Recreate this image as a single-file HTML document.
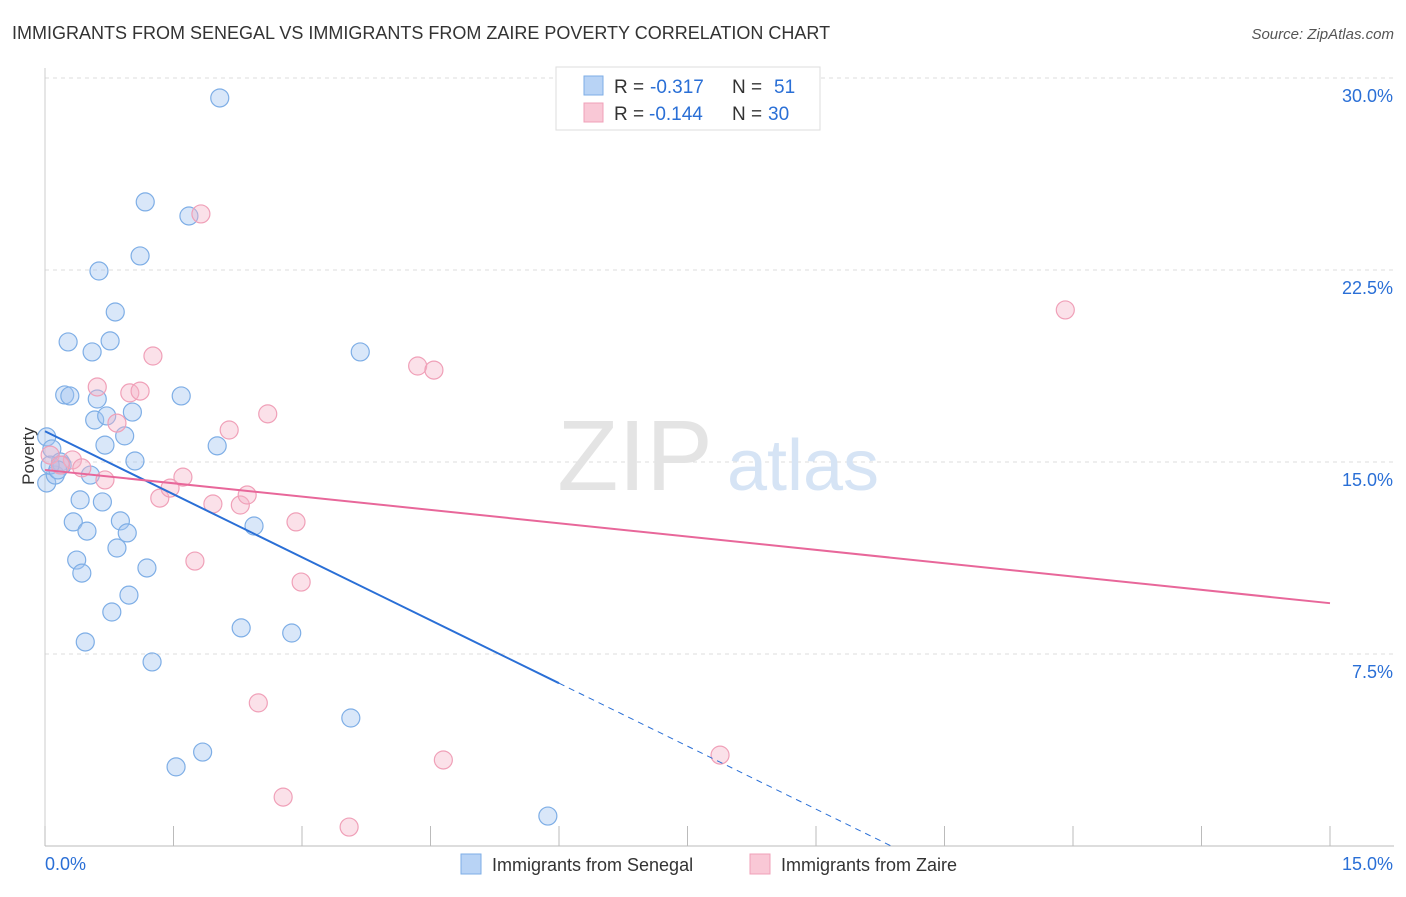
<!DOCTYPE html>
<html><head><meta charset="utf-8"><style>
body{margin:0;background:#fff;font-family:"Liberation Sans",sans-serif;}
svg text{font-family:"Liberation Sans",sans-serif;}
</style></head><body>
<svg id="chart" width="1406" height="892" xmlns="http://www.w3.org/2000/svg">
<text x="12" y="39" font-size="18" fill="#333">IMMIGRANTS FROM SENEGAL VS IMMIGRANTS FROM ZAIRE POVERTY CORRELATION CHART</text>
<text x="1394" y="39" font-size="15" fill="#555" font-style="italic" text-anchor="end">Source: ZipAtlas.com</text>
<g id="grid"></g>
<g id="wm">
<text x="635" y="490" font-size="100" fill="#e4e4e4" font-family="Liberation Serif" text-anchor="middle">ZIP</text>
<text x="803" y="490" font-size="72" fill="#d6e4f5" text-anchor="middle">atlas</text>
</g>
<g id="axes"></g>
<g id="points"></g>
<g id="trends"></g>
<text x="34" y="456" font-size="17" fill="#333" text-anchor="middle" transform="rotate(-90 34 456)">Poverty</text>
<g>
<rect x="556" y="67" width="264" height="63" fill="#fff" stroke="#ddd"/>
<rect x="584" y="76" width="19" height="19" fill="#b8d3f5" stroke="#7eaee6"/>
<g>
<text x="614" y="93" font-size="19" fill="#333">R =</text>
<text x="650" y="93" font-size="19" fill="#2a6fd6">-0.317</text>
<text x="732" y="93" font-size="19" fill="#333">N =</text>
<text x="774" y="93" font-size="19" fill="#2a6fd6">51</text>
</g>
<rect x="584" y="103" width="19" height="19" fill="#f9c8d6" stroke="#f0a0b8"/>
<g>
<text x="614" y="120" font-size="19" fill="#333">R =</text>
<text x="649" y="120" font-size="19" fill="#2a6fd6">-0.144</text>
<text x="732" y="120" font-size="19" fill="#333">N =</text>
<text x="768" y="120" font-size="19" fill="#2a6fd6">30</text>
</g>
</g>
<g>
<rect x="461" y="854" width="20" height="20" fill="#b8d3f5" stroke="#7eaee6"/>
<text x="492" y="871" font-size="18" fill="#333">Immigrants from Senegal</text>
<rect x="750" y="854" width="20" height="20" fill="#f9c8d6" stroke="#f0a0b8"/>
<text x="781" y="871" font-size="18" fill="#333">Immigrants from Zaire</text>
</g>
</svg>
<script>
const yTicks=[7.5,15,22.5,30];
const yTickLabels=["7.5%","15.0%","22.5%","30.0%"];
const senegalX=[0.02,0.02,0.08,0.12,0.18,0.20,0.23,0.27,0.29,0.33,0.37,0.41,0.43,0.47,0.49,0.53,0.55,0.58,0.61,0.63,0.67,0.70,0.72,0.76,0.78,0.82,0.84,0.88,0.93,0.96,0.98,1.02,1.05,1.11,1.17,1.19,1.25,1.53,1.59,1.68,1.84,2.01,2.04,2.29,2.44,2.88,3.57,3.68,5.87,0.06,0.15];
const senegalY=[15.98,14.18,15.51,14.49,15.0,14.88,17.62,19.69,17.58,12.66,11.17,13.52,10.66,7.97,12.30,14.49,19.30,16.64,17.46,22.46,13.44,15.66,16.80,19.73,9.14,20.86,11.64,12.70,16.02,12.23,9.80,16.95,15.04,23.05,25.16,10.86,7.19,3.09,17.58,24.61,3.67,15.63,29.22,8.52,12.50,8.32,5.0,19.30,1.17,14.88,14.69];
const zaireX=[0.06,0.32,0.43,0.61,0.70,0.84,0.99,1.11,1.26,1.34,1.46,1.61,1.75,1.82,1.96,2.15,2.28,2.36,2.49,2.60,2.78,2.93,2.99,3.55,4.35,4.54,4.65,7.88,11.91,0.18];
const zaireY=[15.27,15.08,14.77,17.93,14.30,16.52,17.70,17.77,19.14,13.59,13.98,14.41,11.13,24.69,13.36,16.25,13.32,13.71,5.59,16.88,1.91,12.66,10.31,0.74,18.75,18.59,3.36,3.55,20.94,14.88];
const senegalTrend=[16.2,-1.64,6.0];
const zaireTrend=[14.69,-0.347];
const NS="http://www.w3.org/2000/svg";
const X0=45,X1=1330,Y0=846,Y1=78;
const sx=v=>X0+(X1-X0)*v/15;
const sy=v=>Y0-(Y0-Y1)*v/30;
function mk(tag,attrs,parent){const e=document.createElementNS(NS,tag);for(const k in attrs)e.setAttribute(k,attrs[k]);parent.appendChild(e);return e;}
const grid=document.getElementById('grid'),axes=document.getElementById('axes');
yTicks.forEach((t,i)=>{
 const l=mk('line',{x1:X0,x2:1394,y1:sy(t),y2:sy(t),stroke:'#ddd','stroke-dasharray':'4,4'},grid);
 
 
 const tx=mk('text',{x:1393,y:sy(t)+24,'font-size':18,fill:'#2a6fd6','text-anchor':'end'},axes);
 tx.textContent=yTickLabels[i];
 
 
});
const ax=mk('line',{x1:X0,x2:1394,y1:Y0,y2:Y0,stroke:'#bbb'},axes);


const ay=mk('line',{x1:X0,x2:X0,y1:68,y2:Y0,stroke:'#ccc'},axes);


for(let i=0;i<=10;i++){
 const t=mk('line',{x1:sx(i*1.5),x2:sx(i*1.5),y1:Y0,y2:Y0-20,stroke:'#bbb'},axes);
 
 
}
const xl=mk('text',{x:45,y:870,'font-size':18,fill:'#2a6fd6'},axes);xl.textContent='0.0%';


const xr=mk('text',{x:1393,y:870,'font-size':18,fill:'#2a6fd6','text-anchor':'end'},axes);xr.textContent='15.0%';


const pts=document.getElementById('points');
senegalX.forEach((x,i)=>{
 const c=mk('circle',{cx:sx(x),cy:sy(senegalY[i]),r:9,fill:'rgba(160,196,240,0.4)',stroke:'#7eaee6','stroke-width':1.2},pts);
 
 
});
zaireX.forEach((x,i)=>{
 const c=mk('circle',{cx:sx(x),cy:sy(zaireY[i]),r:9,fill:'rgba(245,180,200,0.4)',stroke:'#f0a0b8','stroke-width':1.2},pts);
 
 
});
const tr=document.getElementById('trends');
const [bi,bs,be]=senegalTrend;
const bz=-bi/bs;
const b1=mk('line',{x1:sx(0),y1:sy(bi),x2:sx(be),y2:sy(bi+bs*be),stroke:'#2a6fd6','stroke-width':2},tr);


const b2=mk('line',{x1:sx(be),y1:sy(bi+bs*be),x2:sx(bz),y2:sy(0),stroke:'#2a6fd6','stroke-width':1,'stroke-dasharray':'6,5'},tr);


const z1=mk('line',{x1:sx(0),y1:sy(zaireTrend[0]),x2:sx(15),y2:sy(zaireTrend[0]+zaireTrend[1]*15),stroke:'#e8679a','stroke-width':2},tr);


</script>
</body></html>
